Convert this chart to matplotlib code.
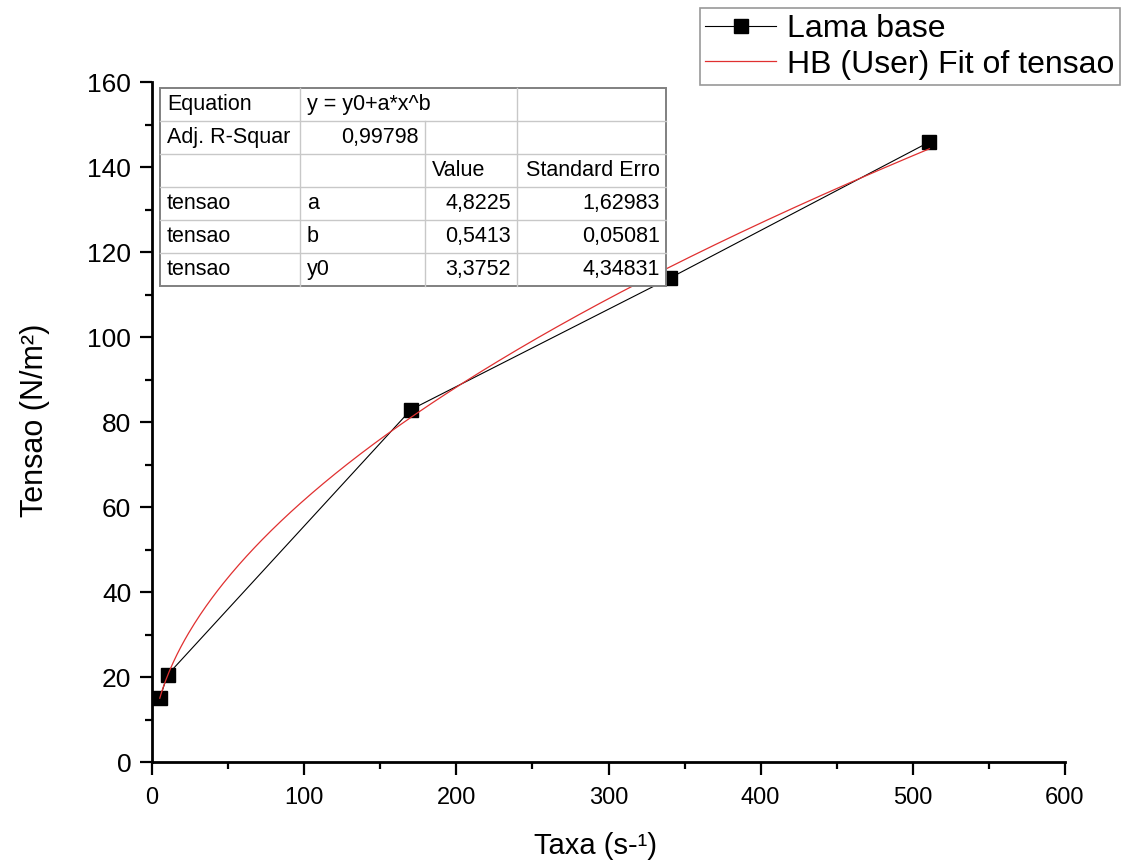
import numpy as np
import matplotlib
matplotlib.use("Agg")
import matplotlib.pyplot as plt
from matplotlib.ticker import MultipleLocator

plt.rcParams['font.family'] = ['Liberation Sans', 'DejaVu Sans']

# Data
taxa = [5.1, 10.2, 170.3, 340.6, 510.9]
tensao = [15.0, 20.5, 83.0, 114.0, 146.0]

# Fit parameters (from the table)
fit_a = 4.8225
fit_b = 0.5413
fit_y0 = 3.3752
adj_r2 = "0,99798"
param_names = ["a", "b", "y0"]
param_values = ["4,8225", "0,5413", "3,3752"]
param_errors = ["1,62983", "0,05081", "4,34831"]

W, H = 1122, 863
fig = plt.figure(figsize=(W / 100, H / 100), dpi=100)
ax = fig.add_axes([152 / W, 1 - 762 / H, (1065 - 152) / W, (762 - 82.5) / H])

xf = np.linspace(min(taxa), max(taxa), 400)
yf = fit_y0 + fit_a * xf ** fit_b

ax.plot(taxa, tensao, color='black', lw=0.8, marker='s', markersize=9.5,
        markerfacecolor='black', markeredgecolor='black', label='Lama base', zorder=3)
ax.plot(xf, yf, color='#e03030', lw=0.9, label='HB (User) Fit of tensao', zorder=4)

ax.set_xlim(0, 600)
ax.set_ylim(0, 160)
ax.xaxis.set_major_locator(MultipleLocator(100))
ax.xaxis.set_minor_locator(MultipleLocator(50))
ax.yaxis.set_major_locator(MultipleLocator(20))
ax.yaxis.set_minor_locator(MultipleLocator(10))
for s in ['top', 'right']:
    ax.spines[s].set_visible(False)
for s in ['left', 'bottom']:
    ax.spines[s].set_linewidth(2)
ax.tick_params(which='major', direction='out', length=9, width=1.6, pad=6)
ax.tick_params(which='minor', direction='out', length=5, width=1.6)
ax.tick_params(axis='y', labelsize=19)
ax.tick_params(axis='x', labelsize=17, pad=9)

fig.text(596 / W, 1 - 846 / H, 'Taxa (s-¹)', ha='center', va='center', fontsize=21)
fig.text(35 / W, 1 - 420 / H, 'Tensao (N/m²)', ha='center', va='center', fontsize=22, rotation=90)

# Legend
leg = ax.legend(loc='upper right', bbox_to_anchor=(1120 / W, 1 - 8 / H), bbox_transform=fig.transFigure,
                frameon=True, fancybox=False, fontsize=23, handlelength=2.2, handletextpad=0.35,
                borderaxespad=0, borderpad=0.18, labelspacing=0.18, markerscale=1.0)
leg.get_frame().set_edgecolor('#7f7f7f')
leg.get_frame().set_linewidth(1.2)

# Table overlay
ov = fig.add_axes([0, 0, 1, 1], zorder=10)
ov.set_xlim(0, W)
ov.set_ylim(H, 0)
ov.axis('off')
ov.patch.set_alpha(0)

tl, tr, tt, tb = 160, 666, 88, 286
cols = [160, 300, 425, 517, 666]
rows = np.linspace(tt, tb, 7)
ov.add_patch(plt.Rectangle((tl, tt), tr - tl, tb - tt, facecolor='white', edgecolor='#808080', lw=1.4))
light = '#c8c8c8'
for r in rows[1:-1]:
    ov.plot([tl, tr], [r, r], color=light, lw=1)
ov.plot([cols[1], cols[1]], [tt, tb], color=light, lw=1)
ov.plot([cols[3], cols[3]], [tt, tb], color=light, lw=1)
ov.plot([cols[2], cols[2]], [rows[1], tb], color=light, lw=1)

fs = 15.5
def cell_text(row, col, txt, align='left'):
    yc = (rows[row] + rows[row + 1]) / 2
    if align == 'left':
        ov.text(cols[col] + 7, yc, txt, ha='left', va='center', fontsize=fs)
    else:
        ov.text(cols[col + 1] - 6, yc, txt, ha='right', va='center', fontsize=fs)

cell_text(0, 0, 'Equation')
cell_text(0, 1, 'y = y0+a*x^b')
cell_text(1, 0, 'Adj. R-Squar')
cell_text(1, 1, adj_r2, 'right')
cell_text(2, 2, 'Value')
cell_text(2, 3, 'Standard Erro', 'right')
for i in range(3):
    cell_text(3 + i, 0, 'tensao')
    cell_text(3 + i, 1, param_names[i])
    cell_text(3 + i, 2, param_values[i], 'right')
    cell_text(3 + i, 3, param_errors[i], 'right')

fig.savefig('out.png', dpi=100)
